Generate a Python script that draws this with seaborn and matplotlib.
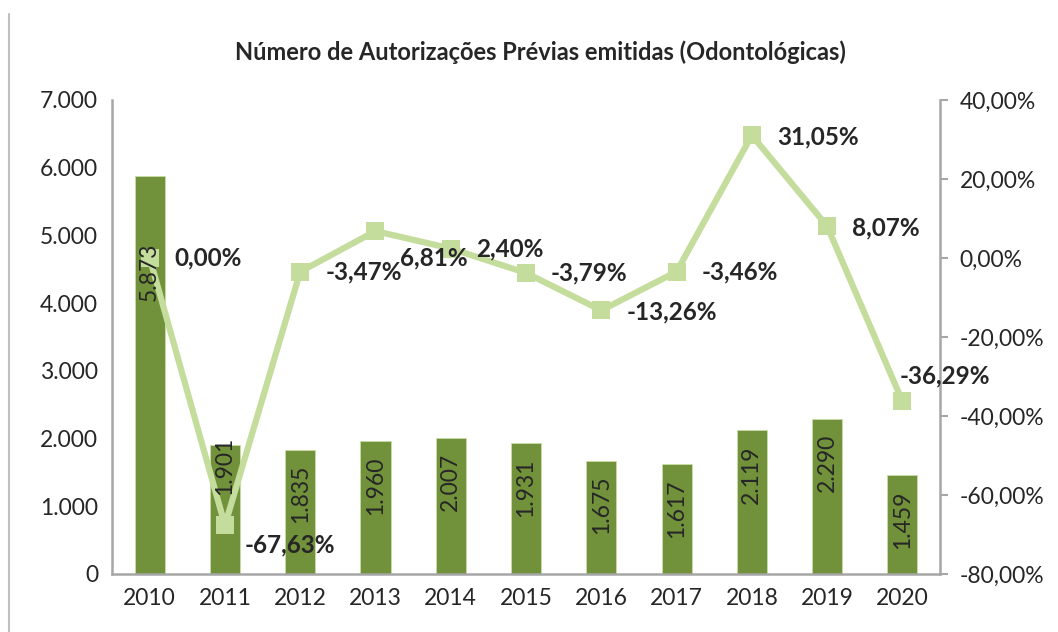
import numpy as np
import pandas as pd
import matplotlib
matplotlib.use("Agg")
import matplotlib.pyplot as plt
import seaborn as sns
from matplotlib.lines import Line2D

# data
anos = ["2010", "2011", "2012", "2013", "2014", "2015", "2016", "2017", "2018", "2019", "2020"]
autorizacoes = [5873, 1901, 1835, 1960, 2007, 1931, 1675, 1617, 2119, 2290, 1459]
variacao = [0.00, -67.63, -3.47, 6.81, 2.40, -3.79, -13.26, -3.46, 31.05, 8.07, -36.29]

left_ticks = [0, 1000, 2000, 3000, 4000, 5000, 6000, 7000]
right_ticks = [-80, -60, -40, -20, 0, 20, 40]

BAR_COLOR = "#71913A"
LINE_COLOR = "#C4DC9C"
GRAY = "#A6A6A6"
TXT = "#262626"


def br_int(v):
    return f"{v:,}".replace(",", ".")


def br_pct(v):
    return f"{v:.2f}%".replace(".", ",")


sns.set_style("white")
plt.rcParams["font.family"] = ["Lato", "DejaVu Sans"]

df = pd.DataFrame({"ano": anos, "qtd": autorizacoes, "var": variacao})

fig = plt.figure(figsize=(10.58, 6.32), dpi=100)
ax = fig.add_axes([0.1059, 0.0918, 0.7826, 0.75])

sns.barplot(data=df, x="ano", y="qtd", color=BAR_COLOR, width=0.4,
            saturation=1, edgecolor="#C9DDA6", linewidth=0.6, ax=ax, zorder=2)
ax.set_ylim(0, 7000)
ax.set_xlim(-0.5, len(anos) - 0.5)
ax.set_yticks(left_ticks)
ax.set_yticklabels([br_int(t) for t in left_ticks])
ax.set_xlabel("")
ax.set_ylabel("")
ax.tick_params(axis="both", labelsize=16.5, colors=TXT, length=0, pad=10)

ax2 = ax.twinx()
x_pos = np.arange(len(anos))
sns.lineplot(x=x_pos, y=variacao, color=LINE_COLOR, linewidth=4.5, marker="s",
             markersize=13, markeredgewidth=0, ax=ax2, zorder=4)
ax2.set_ylim(-80, 40)
ax2.set_yticks(right_ticks)
ax2.set_yticklabels([br_pct(t) for t in right_ticks])
ax2.tick_params(axis="y", labelsize=16.5, colors=GRAY, labelcolor=TXT,
                length=6, width=1.5, direction="out", pad=8)

# rotated value labels inside the bars, drawn above the line
# (offset of the label top from the bar top, points)
bar_offsets = [48, -6, 11, 11, 11, 11, 11, 11, 11, 11, 11]
for i, (v, off) in enumerate(zip(autorizacoes, bar_offsets)):
    ax2.annotate(br_int(v), (i, v), xycoords=ax.transData,
                 xytext=(0, -off), textcoords="offset points",
                 rotation=90, ha="center", va="top", fontsize=16.5, color=TXT, zorder=6)

pct_offsets = [(18, 0), (14, -14), (18, 0), (18, -19), (18, 0), (18, 0),
               (18, -1), (18, 0), (18, -1), (18, -1), (-2, 18)]
for i, (v, off) in enumerate(zip(variacao, pct_offsets)):
    ax2.annotate(br_pct(v), (i, v), xytext=off, textcoords="offset points",
                 ha="left", va="center", fontsize=17.5, fontweight="bold",
                 color=TXT, zorder=5)

for a in (ax, ax2):
    a.spines["top"].set_visible(False)
    for s in ("left", "right", "bottom"):
        a.spines[s].set_color(GRAY)
        a.spines[s].set_linewidth(1.8)
ax.spines["right"].set_visible(False)
ax2.spines["left"].set_visible(False)
ax2.spines["bottom"].set_visible(False)

fig.text(0.511, 0.918, "Número de Autorizações Prévias emitidas (Odontológicas)",
         ha="center", va="center", fontsize=17, fontweight="bold", color=TXT)

# thin frame line on the far left of the picture
fig.add_artist(Line2D([0.0085, 0.0085], [0.0, 0.978], color="#BFBFBF", linewidth=1.5))

fig.savefig("out.png", dpi=100)
